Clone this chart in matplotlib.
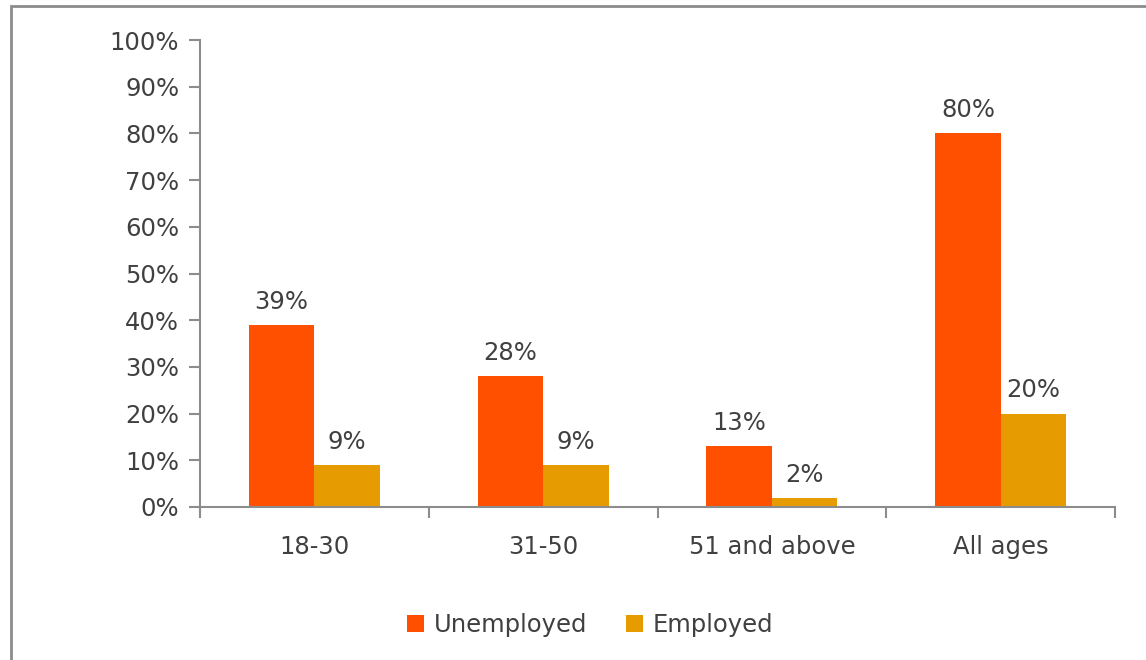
import matplotlib
matplotlib.use("Agg")
import matplotlib.pyplot as plt
from matplotlib.patches import Rectangle
from matplotlib.ticker import FixedLocator, PercentFormatter
import numpy as np

categories = ["18-30", "31-50", "51 and above", "All ages"]
unemployed = [39, 28, 13, 80]
employed = [9, 9, 2, 20]

RED = "#FF5000"
GOLD = "#E69C00"
TEXT = "#404040"
AXIS = "#8C8C8C"
FS = 17.5

plt.rcParams["font.family"] = ["DejaVu Sans"]

fig = plt.figure(figsize=(11.46, 6.6), dpi=100)
ax = fig.add_axes([200 / 1146, 1 - 507 / 660, 915 / 1146, 467 / 660])

x = np.arange(len(categories))
w = 0.286
b1 = ax.bar(x - w / 2, unemployed, w, color=RED, label="Unemployed")
b2 = ax.bar(x + w / 2, employed, w, color=GOLD, label="Employed")

for bars, vals in ((b1, unemployed), (b2, employed)):
    for rect, v in zip(bars, vals):
        ax.annotate(f"{v}%", (rect.get_x() + rect.get_width() / 2, v),
                    xytext=(0, 8), textcoords="offset points",
                    ha="center", va="bottom", fontsize=FS, color=TEXT)

ax.set_xlim(-0.5, len(categories) - 0.5)
ax.set_ylim(0, 100)
ax.set_yticks(range(0, 101, 10))
ax.yaxis.set_major_formatter(PercentFormatter(decimals=0))
ax.set_xticks(x)
ax.set_xticklabels(categories)
ax.xaxis.set_minor_locator(FixedLocator(np.arange(-0.5, len(categories), 1.0)))
ax.tick_params(axis="x", which="major", length=0, pad=20, labelsize=FS, labelcolor=TEXT)
ax.tick_params(axis="x", which="minor", length=8, width=1.5, color=AXIS, direction="out")
ax.tick_params(axis="y", length=8, width=1.5, color=AXIS, pad=7, labelsize=FS, labelcolor=TEXT)

for s in ("top", "right"):
    ax.spines[s].set_visible(False)
for s in ("left", "bottom"):
    ax.spines[s].set_color(AXIS)
    ax.spines[s].set_linewidth(1.5)

fig.legend(handles=[b1, b2], loc="center", bbox_to_anchor=(590 / 1146, 1 - 625 / 660),
           ncol=2, frameon=False, fontsize=FS, handlelength=0.7, handleheight=0.7,
           handletextpad=0.4, columnspacing=1.6, labelcolor=TEXT)

fig.patches.append(Rectangle((11 / 1146, -0.05), 1.1, 1 - 6 / 660 + 0.05,
                             transform=fig.transFigure, fill=False,
                             edgecolor=AXIS, linewidth=2))

fig.savefig("out.png", dpi=100)
